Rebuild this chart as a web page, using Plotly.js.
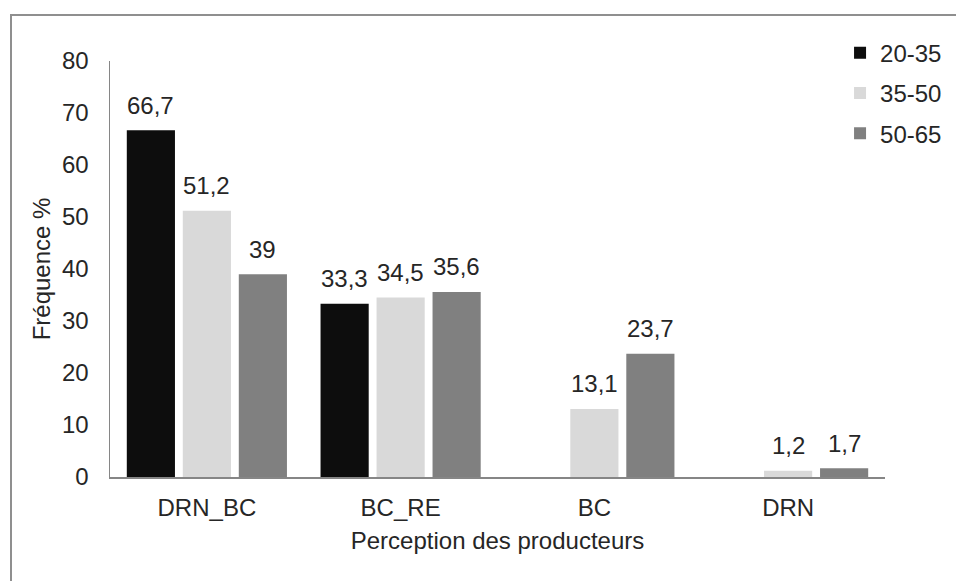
<!DOCTYPE html>
<html>
<head>
<meta charset="utf-8">
<script src="https://cdn.plot.ly/plotly-3.0.1.min.js"></script>
<style>
  html, body { margin: 0; padding: 0; background: #ffffff; }
  #wrap { position: relative; width: 956px; height: 581px; overflow: hidden; }
  #frame { position: absolute; left: 10px; top: 14px; width: 2000px; height: 2000px;
           border-left: 2px solid #8f8f8f; border-top: 2px solid #8f8f8f; pointer-events: none; }
  #chart { position: absolute; left: 0; top: 0; width: 956px; height: 581px; }
</style>
</head>
<body>
<div id="wrap">
  <div id="frame"></div>
  <div id="chart"></div>
</div>
<script>
const categories = ["DRN_BC", "BC_RE", "BC", "DRN"];
const seriesNames = ["20-35", "35-50", "50-65"];
const values2035 = [66.7, 33.3, 0, 0];
const values3550 = [51.2, 34.5, 13.1, 1.2];
const values5065 = [39, 35.6, 23.7, 1.7];
const yTicks = [0, 10, 20, 30, 40, 50, 60, 70, 80];
const xTitle = "Perception des producteurs";
const yTitle = "Fréquence %";

const colors = ["#0d0d0d", "#d9d9d9", "#808080"];
const seriesValues = [values2035, values3550, values5065];
const FONT = "Liberation Sans, Arial, sans-serif";
const FS = 24;
const TXT = "#262626";
const bargap = 0.133;
const nSeries = seriesValues.length;
const slot = (1 - bargap) / nSeries;

const traces = seriesValues.map((vals, j) => ({
  type: "bar",
  name: seriesNames[j],
  x: categories,
  y: vals,
  marker: { color: colors[j], line: { width: 0 } },
  legendgroup: "g" + j,
  hoverinfo: "skip"
}));

const annotations = [];
seriesValues.forEach((vals, j) => {
  vals.forEach((v, i) => {
    if (v === 0) return;
    annotations.push({
      xref: "x", yref: "y",
      x: i + (j - (nSeries - 1) / 2) * slot,
      y: v,
      yshift: 25,
      text: String(v).replace(".", ","),
      showarrow: false,
      xanchor: "center", yanchor: "middle",
      font: { family: FONT, size: FS, color: TXT }
    });
  });
});

const layout = {
  width: 956, height: 581,
  paper_bgcolor: "rgba(0,0,0,0)",
  plot_bgcolor: "rgba(0,0,0,0)",
  margin: { l: 110, r: 71, t: 61, b: 104, autoexpand: false },
  barmode: "group",
  bargap: bargap,
  bargroupgap: 0.14,
  separators: ",.",
  font: { family: FONT, size: FS, color: TXT },
  xaxis: {
    type: "category",
    range: [-0.5, categories.length - 0.5],
    showline: true, linecolor: "#868686", linewidth: 1.5,
    ticks: "", showgrid: false, zeroline: false,
    ticklabelstandoff: 9,
    tickfont: { family: FONT, size: FS, color: TXT },
    title: { text: xTitle, standoff: 12, font: { family: FONT, size: FS, color: TXT } },
    automargin: false, fixedrange: true
  },
  yaxis: {
    range: [0, 80],
    tickvals: yTicks,
    showline: true, linecolor: "#868686", linewidth: 1.5,
    ticks: "", showgrid: false, zeroline: false,
    ticklabelstandoff: 15,
    tickfont: { family: FONT, size: FS, color: TXT },
    title: { text: yTitle, standoff: 4, font: { family: FONT, size: FS, color: TXT } },
    automargin: false, fixedrange: true
  },
  showlegend: true,
  legend: {
    x: 0.942, xanchor: "left",
    y: 1.073, yanchor: "top",
    bgcolor: "rgba(0,0,0,0)",
    font: { family: FONT, size: FS, color: TXT },
    traceorder: "grouped",
    tracegroupgap: 6,
    itemwidth: 30
  },
  annotations: annotations
};

Plotly.newPlot("chart", traces, layout, { displayModeBar: false, staticPlot: true });
</script>
</body>
</html>
